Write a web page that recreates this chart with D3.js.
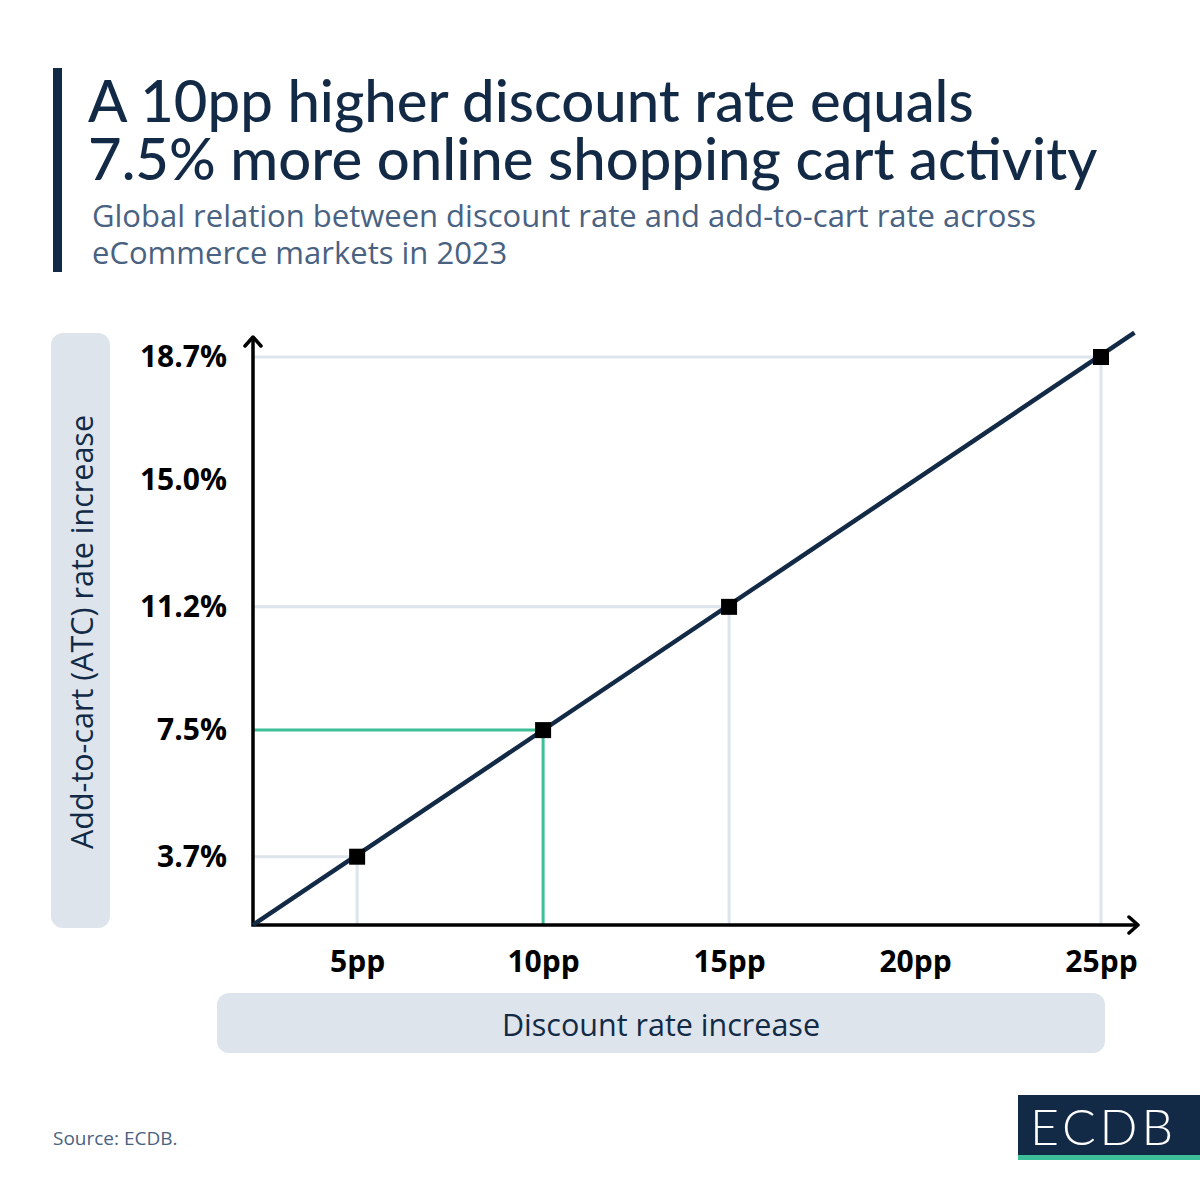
<!DOCTYPE html>
<html>
<head>
<meta charset="utf-8">
<script src="https://cdn.jsdelivr.net/npm/d3@7"></script>
<style>
  html, body { margin: 0; padding: 0; background: #fff; }
  svg { display: block; }
  .tick-label { font-family: 'Open Sans', sans-serif; font-weight: 700; font-size: 30px; fill: #000; }
</style>
</head>
<body>
<script>
'use strict';

// data
const discountPP = [5, 10, 15, 25];          // discount rate increase, pp
const atcRate = [3.7, 7.5, 11.2, 18.7];      // add-to-cart rate increase, %
const xTickValues = [5, 10, 15, 20, 25];
const yTickValues = [3.7, 7.5, 11.2, 15.0, 18.7];
const highlightPP = 10;
const trendPP = [2.2, 25.9];                 // where the fitted line starts and ends
const trendRate = [1.65, 19.43];

const titleLines = ['A 10pp higher discount rate equals', '7.5% more online shopping cart activity'];
const subtitleLines = ['Global relation between discount rate and add-to-cart rate across', 'eCommerce markets in 2023'];

const navy = '#132a47';
const green = '#3dbf98';
const grid = '#dde4ec';
const slate = '#4a6282';

const svg = d3.select('body').append('svg').attr('width', 1200).attr('height', 1200);

// header
svg.append('rect').attr('x', 53).attr('y', 68).attr('width', 9).attr('height', 204).attr('fill', navy);
svg.append('g').selectAll('text').data(titleLines).enter().append('text')
    .attr('x', 88)
    .attr('y', (d, i) => 122 + i * 58)
    .attr('fill', navy)
    .style('font-family', 'Lato, sans-serif')
    .style('font-size', '58px')
    .style('font-weight', 500)
    .text(d => d);
svg.append('g').selectAll('text').data(subtitleLines).enter().append('text')
    .attr('x', 92)
    .attr('y', (d, i) => 227 + i * 37)
    .attr('fill', slate)
    .style('font-family', "'Open Sans', sans-serif")
    .style('font-size', '31px')
    .text(d => d);

// scales
const x = d3.scaleLinear().domain([trendPP[0], 25]).range([253, 1101]);
const y = d3.scaleLinear().domain([trendRate[0], 18.7]).range([925, 357]);
const x0 = x.range()[0];
const y0 = y.range()[0];

// axis title boxes
svg.append('rect').attr('x', 51).attr('y', 333).attr('width', 59).attr('height', 595).attr('rx', 12).attr('fill', grid);
svg.append('text')
    .attr('transform', 'translate(93, 632) rotate(-90)')
    .attr('text-anchor', 'middle')
    .attr('fill', navy)
    .style('font-family', "'Open Sans', sans-serif")
    .style('font-size', '30.5px')
    .text('Add-to-cart (ATC) rate increase');
svg.append('rect').attr('x', 217).attr('y', 993).attr('width', 888).attr('height', 60).attr('rx', 12).attr('fill', grid);
svg.append('text')
    .attr('x', 661).attr('y', 1036)
    .attr('text-anchor', 'middle')
    .attr('fill', navy)
    .style('font-family', "'Open Sans', sans-serif")
    .style('font-size', '30.5px')
    .text('Discount rate increase');

const points = discountPP.map((pp, i) => ({ pp: pp, rate: atcRate[i] }));

// guide lines from the axes to each point
const guides = svg.append('g');
guides.selectAll('path').data(points).enter().append('path')
    .attr('d', d => `M ${x0} ${y(d.rate)} H ${x(d.pp)} V ${y0}`)
    .attr('fill', 'none')
    .attr('stroke', d => d.pp === highlightPP ? green : grid)
    .attr('stroke-width', 3);

// axes
const xAxis = svg.append('g').attr('transform', `translate(0, ${y0})`)
    .call(d3.axisBottom(x).tickValues(xTickValues).tickSize(0).tickPadding(25).tickFormat(d => d + 'pp'));
xAxis.select('.domain').remove();
xAxis.selectAll('text').attr('class', 'tick-label').attr('dy', '0.72em');

const yAxis = svg.append('g').attr('transform', `translate(${x0}, 0)`)
    .call(d3.axisLeft(y).tickValues(yTickValues).tickSize(0).tickPadding(26).tickFormat(d => d.toFixed(1) + '%'));
yAxis.select('.domain').remove();
yAxis.selectAll('text').attr('class', 'tick-label');

svg.append('path')
    .attr('d', `M ${x0} 337 V ${y0} H 1138`)
    .attr('fill', 'none').attr('stroke', '#000').attr('stroke-width', 3.5);
svg.append('path')
    .attr('d', `M ${x0 - 8} 346 L ${x0} 337 L ${x0 + 8} 346 M 1129 ${y0 - 8} L 1138 ${y0} L 1129 ${y0 + 8}`)
    .attr('fill', 'none').attr('stroke', '#000').attr('stroke-width', 3.5)
    .attr('stroke-linecap', 'round').attr('stroke-linejoin', 'round');

// trend line
const trend = trendPP.map((pp, i) => [pp, trendRate[i]]);
svg.append('path')
    .datum(trend)
    .attr('d', d3.line().x(d => x(d[0])).y(d => y(d[1])))
    .attr('fill', 'none')
    .attr('stroke', navy)
    .attr('stroke-width', 4.5);

// markers
svg.append('g').selectAll('rect').data(points).enter().append('rect')
    .attr('x', d => x(d.pp) - 8)
    .attr('y', d => y(d.rate) - 8)
    .attr('width', 16)
    .attr('height', 16)
    .attr('fill', '#000');

// footer
svg.append('text')
    .attr('x', 53).attr('y', 1145)
    .attr('fill', slate)
    .style('font-family', "'Open Sans', sans-serif")
    .style('font-size', '19px')
    .text('Source: ECDB.');
svg.append('rect').attr('x', 1018).attr('y', 1095).attr('width', 182).attr('height', 62).attr('fill', navy);
svg.append('rect').attr('x', 1018).attr('y', 1155).attr('width', 182).attr('height', 5).attr('fill', green);
svg.append('text')
    .attr('x', 1030).attr('y', 1145)
    .attr('fill', '#fff')
    .attr('textLength', 143)
    .style('font-family', 'Lato, sans-serif')
    .style('font-size', '50px')
    .style('font-weight', 300)
    .text('ECDB');
</script>
</body>
</html>
